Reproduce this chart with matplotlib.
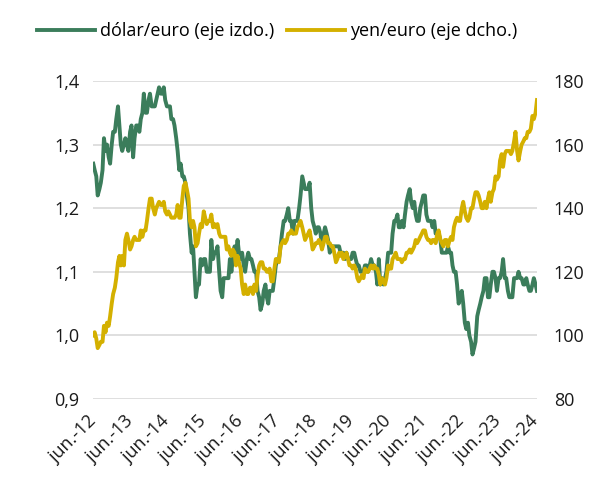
import pandas as pd
import matplotlib
matplotlib.use("Agg")
from matplotlib import pyplot as plt

plt.rcParams['font.family'] = ['Open Sans', 'DejaVu Sans']

# semi-monthly readings, jun-2012 .. jun-2024 (1st and 15th of each month)
usd_eur = [
    1.27, 1.26, 1.25, 1.22, 1.23, 1.24, 1.26, 1.31, 1.29, 1.30, 1.28, 1.27, 1.30, 1.32,  # 2012
    1.32, 1.34, 1.36, 1.33, 1.30, 1.29, 1.30, 1.31, 1.30, 1.29, 1.32, 1.33,
    1.28, 1.31, 1.33, 1.33, 1.32, 1.34, 1.35, 1.38, 1.35, 1.35, 1.37, 1.38,  # 2013
    1.36, 1.36, 1.36, 1.37, 1.38, 1.39, 1.38, 1.38, 1.39, 1.37, 1.36, 1.36,
    1.36, 1.34, 1.34, 1.33, 1.31, 1.29, 1.26, 1.27, 1.25, 1.25, 1.24, 1.22,  # 2014
    1.20, 1.16, 1.13, 1.14, 1.10, 1.06, 1.08, 1.08, 1.12, 1.11, 1.12, 1.12,
    1.10, 1.10, 1.10, 1.15, 1.12, 1.13, 1.13, 1.14, 1.10, 1.07, 1.06, 1.09,  # 2015
    1.09, 1.09, 1.09, 1.12, 1.10, 1.12, 1.14, 1.13, 1.15, 1.13, 1.12, 1.13,
    1.11, 1.10, 1.12, 1.13, 1.12, 1.12, 1.11, 1.10, 1.10, 1.07, 1.06, 1.04,  # 2016
    1.05, 1.07, 1.08, 1.06, 1.05, 1.07, 1.07, 1.07, 1.09, 1.11, 1.12, 1.12,
    1.14, 1.16, 1.18, 1.18, 1.19, 1.20, 1.18, 1.18, 1.16, 1.18, 1.18, 1.18,  # 2017
    1.20, 1.22, 1.25, 1.24, 1.23, 1.23, 1.23, 1.24, 1.20, 1.18, 1.17, 1.16,
    1.17, 1.17, 1.16, 1.14, 1.16, 1.17, 1.16, 1.15, 1.13, 1.14, 1.14, 1.14,  # 2018
    1.14, 1.14, 1.14, 1.13, 1.13, 1.13, 1.12, 1.13, 1.12, 1.12, 1.12, 1.13,
    1.13, 1.12, 1.11, 1.11, 1.10, 1.10, 1.10, 1.11, 1.11, 1.10, 1.11, 1.12,  # 2019
    1.11, 1.11, 1.10, 1.08, 1.12, 1.08, 1.09, 1.08, 1.09, 1.10, 1.13, 1.13,
    1.13, 1.16, 1.18, 1.18, 1.19, 1.17, 1.17, 1.18, 1.17, 1.19, 1.21, 1.22,  # 2020
    1.23, 1.21, 1.20, 1.21, 1.19, 1.18, 1.18, 1.20, 1.21, 1.22, 1.22, 1.19,
    1.18, 1.18, 1.18, 1.17, 1.18, 1.16, 1.16, 1.16, 1.15, 1.13, 1.13, 1.13,  # 2021
    1.13, 1.14, 1.13, 1.13, 1.11, 1.10, 1.10, 1.08, 1.05, 1.06, 1.07, 1.05,
    1.02, 1.01, 1.02, 1.00, 0.99, 0.97, 0.98, 0.99, 1.03, 1.04, 1.05, 1.06,  # 2022
    1.07, 1.09, 1.09, 1.06, 1.06, 1.08, 1.10, 1.10, 1.09, 1.07, 1.09, 1.09,
    1.10, 1.12, 1.09, 1.09, 1.07, 1.06, 1.06, 1.06, 1.09, 1.09, 1.09, 1.10,  # 2023
    1.09, 1.09, 1.08, 1.08, 1.09, 1.08, 1.07, 1.07, 1.08, 1.09, 1.08, 1.07,  # 2024
]

jpy_eur = [
    100, 101, 99, 96, 97, 98, 98, 103, 101, 104, 103, 106, 110, 113,  # 2012
    115, 118, 123, 125, 122, 125, 122, 130, 132, 130, 127, 128,
    130, 131, 130, 130, 130, 133, 131, 133, 133, 136, 140, 143,  # 2013
    143, 140, 138, 140, 141, 142, 141, 141, 142, 139, 138, 139,
    138, 137, 137, 137, 138, 141, 137, 137, 143, 147, 148, 146,  # 2014
    143, 136, 134, 136, 134, 128, 129, 132, 135, 134, 139, 137,
    135, 136, 136, 138, 134, 135, 134, 135, 132, 131, 131, 131,  # 2015
    131, 127, 128, 126, 125, 127, 126, 122, 125, 123, 121, 116,
    113, 116, 113, 113, 115, 115, 113, 116, 114, 119, 122, 123,  # 2016
    123, 121, 121, 120, 120, 121, 117, 117, 121, 124, 124, 123,
    128, 129, 130, 129, 130, 132, 132, 133, 132, 132, 132, 134,  # 2017
    135, 136, 134, 132, 130, 131, 132, 133, 130, 127, 128, 129,
    129, 130, 129, 127, 129, 131, 131, 129, 129, 128, 128, 126,  # 2018
    123, 124, 126, 125, 126, 124, 125, 126, 124, 122, 122, 121,
    122, 121, 118, 117, 118, 119, 118, 121, 120, 120, 121, 122,  # 2019
    121, 122, 121, 121, 119, 116, 118, 117, 116, 118, 122, 121,
    121, 124, 125, 126, 124, 124, 124, 123, 124, 124, 126, 126,  # 2020
    127, 126, 127, 128, 130, 129, 130, 131, 132, 133, 133, 131,
    130, 130, 129, 130, 130, 129, 132, 133, 130, 129, 128, 130,  # 2021
    130, 128, 130, 131, 130, 134, 136, 137, 136, 136, 140, 142,
    139, 137, 136, 137, 140, 140, 143, 145, 145, 144, 142, 140,  # 2022
    140, 142, 140, 143, 145, 142, 145, 146, 150, 149, 150, 155,
    157, 153, 157, 158, 158, 158, 157, 158, 161, 164, 158, 155,  # 2023
    158, 160, 161, 162, 162, 164, 164, 165, 169, 168, 170, 174,  # 2024
]

dates = pd.date_range("2012-06-01", periods=len(usd_eur), freq="SMS")
tick_dates = pd.date_range("2012-06-01", "2024-06-01", freq="12MS")
tick_labels = ["jun.-%02d" % (d.year % 100) for d in tick_dates]
left_ticks = [0.9, 1.0, 1.1, 1.2, 1.3, 1.4]
right_ticks = [80, 100, 120, 140, 160, 180]

green = "#3b7d5b"
gold = "#d4b000"

fig = plt.figure(figsize=(5.94, 4.79), dpi=100)
ax = fig.add_axes([0.157, 0.167, 0.747, 0.664])
ax2 = ax.twinx()

l1, = ax.plot(dates, usd_eur, color=green, lw=2.8, label="dólar/euro (eje izdo.)")
l2, = ax2.plot(dates, jpy_eur, color=gold, lw=2.8, label="yen/euro (eje dcho.)")

ax.set_ylim(0.9, 1.4)
ax2.set_ylim(80, 180)
ax.set_xlim(dates[0], dates[-1])
ax.set_yticks(left_ticks)
ax.set_yticklabels([("%.1f" % v).replace(".", ",") for v in left_ticks])
ax2.set_yticks(right_ticks)
ax.set_xticks(tick_dates)
ax.set_xticklabels(tick_labels, rotation=45, ha="right", va="center",
                   rotation_mode="anchor")

ax.grid(axis="y", color="#d9d9d9", lw=1.2)
ax.set_axisbelow(True)
for a in (ax, ax2):
    for s in a.spines.values():
        s.set_visible(False)
ax.tick_params(axis="both", length=0, labelsize=13, colors="#1a1a1a", pad=10)
ax.tick_params(axis="x", pad=14)
ax2.tick_params(axis="y", length=0, labelsize=13, colors="#1a1a1a", pad=12)

fig.legend(handles=[l1, l2], loc="center left", bbox_to_anchor=(0.047, 1 - 31 / 479),
           ncol=2, frameon=False, fontsize=13, handlelength=3.2, borderpad=0,
           columnspacing=0.7, handletextpad=0.3)

fig.savefig("out.png", dpi=100)
